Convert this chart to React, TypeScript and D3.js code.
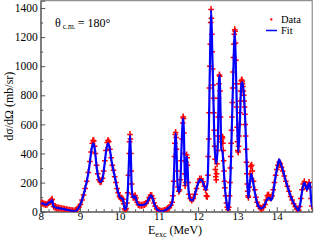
import React, { useEffect, useRef } from "react";
import * as d3 from "d3";

// excitation energy ticks (MeV) and cross-section ticks (mb/sr)
const xTicks = [8, 9, 10, 11, 12, 13, 14];
const yTicks = [0, 200, 400, 600, 800, 1000, 1200, 1400];

// fitted curve
const fitCurve: [number, number][] = [
  [8.0, 55], [8.05, 58], [8.1, 50], [8.15, 48], [8.2, 62], [8.25, 66], [8.29, 80], [8.32, 40],
  [8.36, 30], [8.45, 25], [8.55, 20], [8.65, 14], [8.75, 8], [8.83, 4], [8.88, 3], [8.93, 15],
  [9.0, 45], [9.06, 90], [9.13, 160], [9.2, 250], [9.25, 340], [9.3, 440], [9.34, 470], [9.38, 420],
  [9.42, 310], [9.47, 230], [9.52, 205], [9.57, 225], [9.62, 320], [9.67, 430], [9.71, 470], [9.75, 440],
  [9.8, 350], [9.86, 270], [9.92, 190], [9.97, 130], [10.01, 100], [10.05, 92], [10.09, 88], [10.11, 50],
  [10.14, 15], [10.17, 25], [10.21, 120], [10.25, 400], [10.27, 525], [10.29, 400], [10.31, 180], [10.34, 100],
  [10.37, 95], [10.4, 108], [10.43, 80], [10.47, 50], [10.55, 45], [10.63, 48], [10.7, 62], [10.76, 95],
  [10.8, 112], [10.84, 95], [10.89, 50], [10.95, 18], [11.02, 5], [11.08, 2], [11.15, 8], [11.22, 20],
  [11.3, 40], [11.35, 70], [11.38, 200], [11.41, 450], [11.43, 540], [11.45, 430], [11.48, 180], [11.52, 135],
  [11.55, 200], [11.58, 450], [11.61, 620], [11.63, 640], [11.65, 400], [11.67, 180], [11.69, 250], [11.71, 380],
  [11.73, 320], [11.76, 140], [11.8, 85], [11.85, 78], [11.9, 100], [11.95, 150], [12.0, 195], [12.05, 220],
  [12.1, 215], [12.15, 180], [12.2, 150], [12.24, 200], [12.27, 500], [12.3, 1000], [12.33, 1385], [12.36, 1100],
  [12.39, 770], [12.42, 450], [12.46, 330], [12.5, 450], [12.53, 900], [12.55, 940], [12.57, 700], [12.59, 430],
  [12.62, 410], [12.65, 300], [12.68, 170], [12.72, 70], [12.76, 10], [12.79, 40], [12.83, 300], [12.86, 600],
  [12.9, 1000], [12.93, 1245], [12.96, 1000], [12.99, 650], [13.02, 410], [13.06, 600], [13.1, 880], [13.13, 890],
  [13.17, 780], [13.2, 620], [13.23, 370], [13.26, 160], [13.28, 95], [13.31, 180], [13.35, 260], [13.38, 230],
  [13.43, 150], [13.48, 80], [13.53, 40], [13.6, 22], [13.67, 35], [13.73, 70], [13.77, 90], [13.81, 95],
  [13.85, 80], [13.89, 100], [13.93, 170], [13.98, 260], [14.03, 330], [14.06, 360], [14.1, 330], [14.15, 290],
  [14.22, 220], [14.29, 160], [14.36, 100], [14.43, 60], [14.5, 25], [14.55, 8], [14.6, 60], [14.65, 150],
  [14.7, 200], [14.74, 170], [14.77, 150], [14.8, 180], [14.84, 200], [14.87, 90], [14.9, 30],
];

const dataPoints: [number, number][] = [
  [8.0, 58], [8.04, 60], [8.08, 55], [8.12, 50], [8.16, 52], [8.2, 62], [8.24, 68], [8.27, 78], [8.29, 85],
  [8.31, 55], [8.33, 35], [8.37, 30], [8.41, 28], [8.45, 26], [8.49, 24], [8.53, 21], [8.57, 19], [8.61, 16],
  [8.65, 14], [8.69, 12], [8.73, 10], [8.77, 8], [8.81, 6], [8.85, 5], [8.89, 8], [8.93, 18], [8.97, 32],
  [9.01, 50], [9.05, 80], [9.09, 115], [9.13, 160], [9.17, 210], [9.21, 270], [9.25, 345], [9.28, 410],
  [9.31, 470], [9.33, 490], [9.35, 485], [9.37, 450], [9.39, 400], [9.42, 320], [9.45, 260], [9.48, 220],
  [9.51, 205], [9.54, 210], [9.57, 230], [9.6, 280], [9.63, 350], [9.66, 420], [9.69, 475], [9.71, 490],
  [9.73, 480], [9.76, 430], [9.79, 370], [9.82, 320], [9.85, 285], [9.88, 240], [9.91, 200], [9.94, 160],
  [9.97, 130], [10.0, 105], [10.03, 95], [10.06, 92], [10.09, 85], [10.11, 55], [10.13, 20], [10.15, 12],
  [10.17, 22], [10.19, 60], [10.21, 130], [10.23, 250], [10.25, 400], [10.26, 480], [10.27, 530], [10.28, 500],
  [10.29, 400], [10.3, 280], [10.31, 190], [10.33, 120], [10.35, 100], [10.38, 100], [10.4, 110], [10.42, 95],
  [10.45, 65], [10.48, 50], [10.52, 45], [10.56, 44], [10.6, 46], [10.64, 50], [10.68, 58], [10.72, 75],
  [10.76, 98], [10.79, 112], [10.82, 110], [10.85, 90], [10.88, 60], [10.91, 38], [10.95, 20], [10.99, 10],
  [11.03, 5], [11.07, 3], [11.11, 4], [11.15, 8], [11.19, 14], [11.23, 22], [11.27, 30], [11.31, 45],
  [11.34, 65], [11.36, 110], [11.38, 210], [11.4, 380], [11.41, 470], [11.42, 530], [11.43, 545], [11.44, 510],
  [11.45, 430], [11.47, 280], [11.49, 170], [11.51, 140], [11.53, 150], [11.55, 220], [11.57, 350], [11.59, 500],
  [11.61, 610], [11.62, 650], [11.63, 640], [11.64, 540], [11.65, 400], [11.66, 260], [11.67, 180], [11.68, 200],
  [11.69, 260], [11.7, 340], [11.71, 390], [11.72, 370], [11.73, 320], [11.75, 200], [11.77, 120], [11.8, 90],
  [11.84, 80], [11.88, 90], [11.92, 120], [11.96, 160], [12.0, 200], [12.04, 225], [12.08, 225], [12.12, 205],
  [12.16, 175], [12.19, 150], [12.21, 110], [12.23, 105], [12.25, 250], [12.26, 380], [12.27, 500], [12.28, 680],
  [12.29, 850], [12.3, 1000], [12.31, 1150], [12.32, 1300], [12.33, 1390], [12.34, 1330], [12.35, 1220], [12.36, 1100],
  [12.37, 980], [12.38, 870], [12.39, 780], [12.4, 680], [12.41, 560], [12.42, 450], [12.43, 360], [12.44, 290],
  [12.45, 240], [12.46, 220], [12.47, 260], [12.48, 330], [12.49, 420], [12.5, 520], [12.51, 650], [12.52, 780],
  [12.53, 880], [12.54, 940], [12.55, 930], [12.56, 830], [12.57, 650], [12.58, 520], [12.59, 480], [12.6, 500],
  [12.61, 515], [12.62, 510], [12.63, 470], [12.64, 420], [12.65, 350], [12.66, 280], [12.67, 210], [12.68, 165],
  [12.7, 110], [12.72, 60], [12.74, 30], [12.76, 15], [12.78, 30], [12.8, 110], [12.81, 200], [12.82, 300],
  [12.83, 380], [12.84, 470], [12.85, 560], [12.86, 650], [12.87, 750], [12.88, 850], [12.89, 960], [12.9, 1060],
  [12.91, 1150], [12.92, 1220], [12.93, 1250], [12.94, 1240], [12.95, 1160], [12.96, 1040], [12.97, 880], [12.98, 720],
  [12.99, 580], [13.0, 480], [13.01, 420], [13.02, 410], [13.03, 450], [13.04, 520], [13.05, 600], [13.06, 680],
  [13.07, 760], [13.08, 830], [13.09, 880], [13.1, 900], [13.11, 905], [13.12, 895], [13.13, 880], [13.14, 860],
  [13.15, 830], [13.16, 800], [13.17, 760], [13.18, 720], [13.19, 670], [13.2, 600], [13.21, 520], [13.22, 430],
  [13.23, 340], [13.24, 260], [13.25, 190], [13.26, 140], [13.27, 110], [13.28, 100], [13.3, 170], [13.32, 260],
  [13.34, 310], [13.36, 320], [13.38, 280], [13.41, 210], [13.44, 150], [13.47, 100], [13.5, 65], [13.54, 38],
  [13.58, 25], [13.62, 22], [13.66, 30], [13.7, 50], [13.73, 80], [13.76, 110], [13.79, 115], [13.82, 100],
  [13.85, 95], [13.88, 110], [13.91, 150], [13.94, 200], [13.97, 250], [14.0, 290], [14.03, 320], [14.06, 340],
  [14.09, 330], [14.12, 305], [14.15, 280], [14.19, 245], [14.23, 210], [14.27, 175], [14.31, 140], [14.35, 105],
  [14.39, 80], [14.43, 55], [14.47, 35], [14.51, 18], [14.55, 10], [14.58, 35], [14.61, 90], [14.64, 150],
  [14.67, 190], [14.7, 205], [14.73, 180], [14.76, 160], [14.79, 180], [14.82, 200], [14.85, 170], [14.87, 90],
  [14.89, 40],
];

const W = 314, H = 241;
const margin = { top: 0.7, right: 1.8, bottom: 29.3, left: 40.7 };
const serif = "'Liberation Serif', 'Times New Roman', serif";

export default function App() {
  const ref = useRef<SVGSVGElement>(null);

  useEffect(() => {
    const svg = d3.select(ref.current);
    svg.selectAll("*").remove();

    const x = d3.scaleLinear().domain([8, 14.9]).range([margin.left, W - margin.right]);
    const y = d3.scaleLinear().domain([0, 1450]).range([H - margin.bottom, margin.top]);
    const axisColor = "#555";

    svg.append("defs").append("clipPath").attr("id", "plotClip")
      .append("rect")
      .attr("x", margin.left).attr("y", margin.top)
      .attr("width", W - margin.left - margin.right)
      .attr("height", H - margin.top - margin.bottom);

    // frame
    svg.append("rect")
      .attr("x", margin.left).attr("y", margin.top)
      .attr("width", W - margin.left - margin.right)
      .attr("height", H - margin.top - margin.bottom)
      .attr("fill", "none").attr("stroke", "#777").attr("stroke-width", 1);

    // minor ticks
    const xMinor = d3.range(8, 14.9, 0.2).filter(v => Math.abs(v - Math.round(v)) > 1e-6);
    svg.append("g")
      .attr("transform", `translate(0,${y(0)})`)
      .call(d3.axisBottom(x).tickValues(xMinor).tickSize(-2.5).tickFormat(() => ""))
      .call(g => g.select(".domain").remove())
      .selectAll("line").attr("stroke", axisColor);
    const yMinor = d3.range(100, 1450, 200);
    svg.append("g")
      .attr("transform", `translate(${x(8)},0)`)
      .call(d3.axisLeft(y).tickValues(yMinor).tickSize(-2.5).tickFormat(() => ""))
      .call(g => g.select(".domain").remove())
      .selectAll("line").attr("stroke", axisColor);

    // major axes
    const xAxis = svg.append("g")
      .attr("transform", `translate(0,${y(0)})`)
      .call(d3.axisBottom(x).tickValues(xTicks).tickSize(-4.5).tickPadding(0.5).tickFormat(d3.format("d")));
    xAxis.select(".domain").attr("stroke", axisColor);
    xAxis.selectAll("line").attr("stroke", axisColor);
    xAxis.selectAll("text").attr("font-family", serif).attr("font-size", 11).attr("fill", "#000");

    const yAxis = svg.append("g")
      .attr("transform", `translate(${x(8)},0)`)
      .call(d3.axisLeft(y).tickValues(yTicks).tickSize(-4.5).tickPadding(3).tickFormat(d3.format("d")));
    yAxis.select(".domain").attr("stroke", axisColor);
    yAxis.selectAll("line").attr("stroke", axisColor);
    yAxis.selectAll("text").attr("font-family", serif).attr("font-size", 11.5).attr("fill", "#000");

    const plot = svg.append("g").attr("clip-path", "url(#plotClip)");

    // data markers with small error bars
    const marks = plot.selectAll(".pt").data(dataPoints).enter().append("g")
      .attr("transform", d => `translate(${x(d[0])},${y(d[1])})`)
      .attr("stroke", "#ff0000").attr("stroke-width", 1.5);
    marks.append("line").attr("x1", -2.8).attr("x2", 2.8).attr("y1", 0).attr("y2", 0);
    marks.append("line").attr("x1", 0).attr("x2", 0).attr("y1", -3.5).attr("y2", 3.5);

    // fit
    const line = d3.line<[number, number]>()
      .x(d => x(d[0])).y(d => y(d[1]))
      .curve(d3.curveMonotoneX);
    plot.append("path").datum(fitCurve)
      .attr("d", line)
      .attr("fill", "none").attr("stroke", "#0000ff").attr("stroke-width", 2.2);

    // legend
    svg.append("rect").attr("x", 270.3).attr("y", 18.3).attr("width", 2).attr("height", 2.2).attr("fill", "#ff0000");
    svg.append("text").attr("x", 281).attr("y", 22.5).text("Data")
      .attr("font-family", serif).attr("font-size", 10.5);
    svg.append("line").attr("x1", 266).attr("x2", 277).attr("y1", 30.5).attr("y2", 30.5)
      .attr("stroke", "#0000ff").attr("stroke-width", 1.5);
    svg.append("text").attr("x", 281).attr("y", 33.5).text("Fit")
      .attr("font-family", serif).attr("font-size", 10.5);

    // angle annotation
    const ann = svg.append("text").attr("x", 55).attr("y", 27)
      .attr("font-family", serif).attr("font-size", 12);
    ann.append("tspan").text("θ");
    ann.append("tspan").attr("dx", 2).attr("dy", 1.5).attr("font-size", 7.5).text("c.m.");
    ann.append("tspan").attr("dx", 2).attr("dy", -1.5).text("= 180°");

    // axis titles
    const xt = svg.append("text").attr("x", 148).attr("y", 233.5)
      .attr("font-family", serif).attr("font-size", 12);
    xt.append("tspan").text("E");
    xt.append("tspan").attr("dy", 3.5).attr("font-size", 8).text("exc");
    xt.append("tspan").attr("dx", 3).attr("dy", -3.5).text("(MeV)");

    svg.append("text")
      .attr("transform", `translate(13,${(y(0) + y(1450)) / 2}) rotate(-90)`)
      .attr("text-anchor", "middle")
      .attr("font-family", serif).attr("font-size", 12)
      .text("dσ/dΩ (mb/sr)");
  }, []);

  return (
    <svg ref={ref} width={W} height={H}
      style={{ position: "absolute", left: 0, top: 0, background: "#fff" }} />
  );
}
